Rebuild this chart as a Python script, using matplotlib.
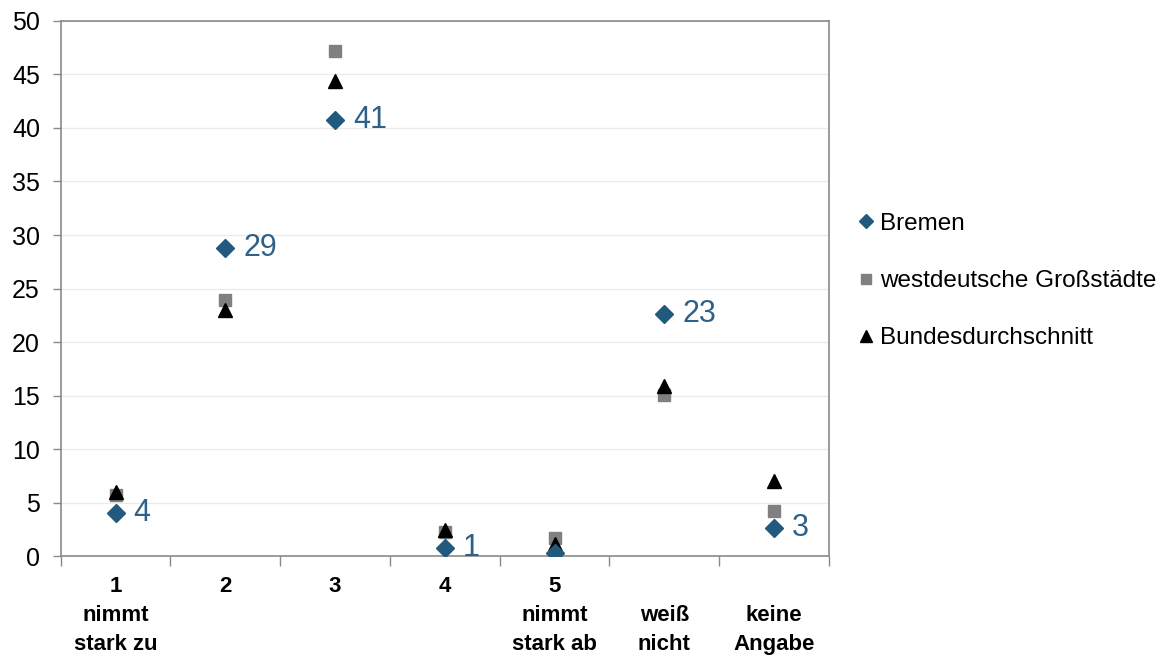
import matplotlib
matplotlib.use("Agg")
import matplotlib.pyplot as plt
import numpy as np

plt.rcParams['font.family'] = ['Liberation Sans', 'DejaVu Sans']

categories = ["1\nnimmt\nstark zu", "2", "3", "4", "5\nnimmt\nstark ab",
              "\nweiß\nnicht", "\nkeine\nAngabe"]
series_names = ["Bremen", "westdeutsche Großstädte", "Bundesdurchschnitt"]
bremen = [4.1, 28.8, 40.7, 0.8, 0.35, 22.6, 2.7]
west = [5.7, 23.9, 47.2, 2.3, 1.7, 15.1, 4.2]
bund = [6.0, 23.0, 44.4, 2.5, 1.2, 15.9, 7.0]
bremen_labels = ["4", "29", "41", "1", "", "23", "3"]
yticks = [0, 5, 10, 15, 20, 25, 30, 35, 40, 45, 50]

c_bremen = "#215A7E"
c_label = "#2E6189"
c_west = "#808080"
c_bund = "#000000"
c_spine = "#8A8A8A"
c_grid = "#EBEBEB"

fig = plt.figure(figsize=(11.7, 6.57), dpi=100)
ax = fig.add_axes([0.0519, 0.153, 0.6566, 0.8155])

x = np.arange(len(categories)) + 0.5
ax.plot(x, west, linestyle="none", marker="s", markersize=9, color=c_west,
        label=series_names[1], zorder=3)
ax.plot(x, bund, linestyle="none", marker="^", markersize=10, color=c_bund,
        label=series_names[2], zorder=4)
ax.plot(x, bremen, linestyle="none", marker="D", markersize=9.2, color=c_bremen,
        label=series_names[0], zorder=5)

for xi, yi, lab in zip(x, bremen, bremen_labels):
    if lab:
        ax.annotate(lab, (xi, yi), xytext=(13, 0), textcoords="offset points",
                    va="center", ha="left", fontsize=22, color=c_label, zorder=6)

ax.set_xlim(0, len(categories))
ax.set_ylim(0, 50)
ax.set_yticks(yticks)
ax.set_yticklabels([str(v) for v in yticks])
ax.tick_params(axis="y", direction="out", length=6, width=1, color=c_spine,
               labelsize=18, pad=9)
ax.set_xticks(np.arange(len(categories) + 1))
ax.set_xticklabels([])
ax.tick_params(axis="x", which="major", direction="out", length=7, width=1,
               color=c_spine)
ax.set_xticks(x, minor=True)
ax.set_xticklabels(categories, minor=True, fontsize=16, fontweight="bold",
                   linespacing=1.5)
ax.tick_params(axis="x", which="minor", length=0, pad=14)

ax.grid(axis="y", color=c_grid, linewidth=1)
ax.set_axisbelow(True)
for s in ax.spines.values():
    s.set_color(c_spine)
    s.set_linewidth(1.2)

h, l = ax.get_legend_handles_labels()
order = [2, 0, 1]
leg = fig.legend([h[i] for i in order], [l[i] for i in order],
                 loc="center left", bbox_to_anchor=(0.7265, 0.572),
                 frameon=False, fontsize=17.5, handlelength=0.55,
                 handletextpad=0.3, labelspacing=1.45, borderaxespad=0,
                 markerscale=0.8)

fig.savefig("out.png", dpi=100)
